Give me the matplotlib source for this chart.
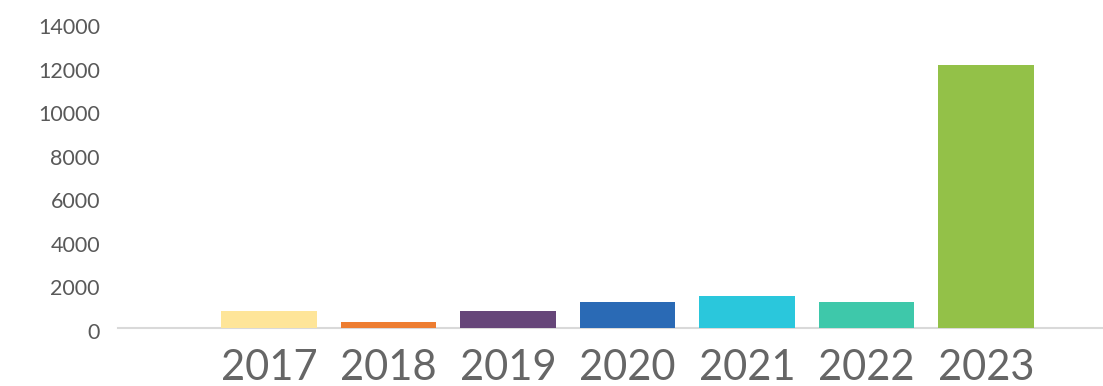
import matplotlib.pyplot as plt
import matplotlib.transforms as mtransforms

# yearly totals
years = ["2017", "2018", "2019", "2020", "2021", "2022", "2023"]
values = [800, 290, 800, 1210, 1450, 1210, 12100]
colors = ["#FEE599", "#ED7D31", "#664679", "#2A6AB5", "#2AC7DC", "#3EC8AA", "#93C148"]

plt.rcParams['font.family'] = ['Lato', 'DejaVu Sans']

fig = plt.figure(figsize=(11.03, 3.86), dpi=100)
ax = fig.add_axes([118 / 1103, 58 / 386, 985 / 1103, (328 - 23.5) / 386])

x = list(range(len(years)))
ax.bar(x, values, width=0.8, color=colors, zorder=2)

ax.set_xlim((118 - 269) / 119.5, (1103 - 269) / 119.5)
ax.set_ylim(0, 14000)
ax.set_yticks(range(0, 14001, 2000))
ax.set_xticks(x)
ax.set_xticklabels(years)

# only the baseline is shown
for side in ["top", "right", "left"]:
    ax.spines[side].set_visible(False)
ax.spines["bottom"].set_color("#D9D9D9")
ax.spines["bottom"].set_linewidth(1.5)
ax.spines["bottom"].set_zorder(1)

ax.tick_params(axis="y", length=0, pad=13, labelsize=15.5, labelcolor="#595959")
ax.tick_params(axis="x", length=0, pad=15, labelsize=30, labelcolor="#666666")

# nudge the y labels down a little
shift = mtransforms.ScaledTranslation(0, -2 / 72, fig.dpi_scale_trans)
for lbl in ax.get_yticklabels():
    lbl.set_transform(lbl.get_transform() + shift)

plt.savefig("out.png", dpi=100)
